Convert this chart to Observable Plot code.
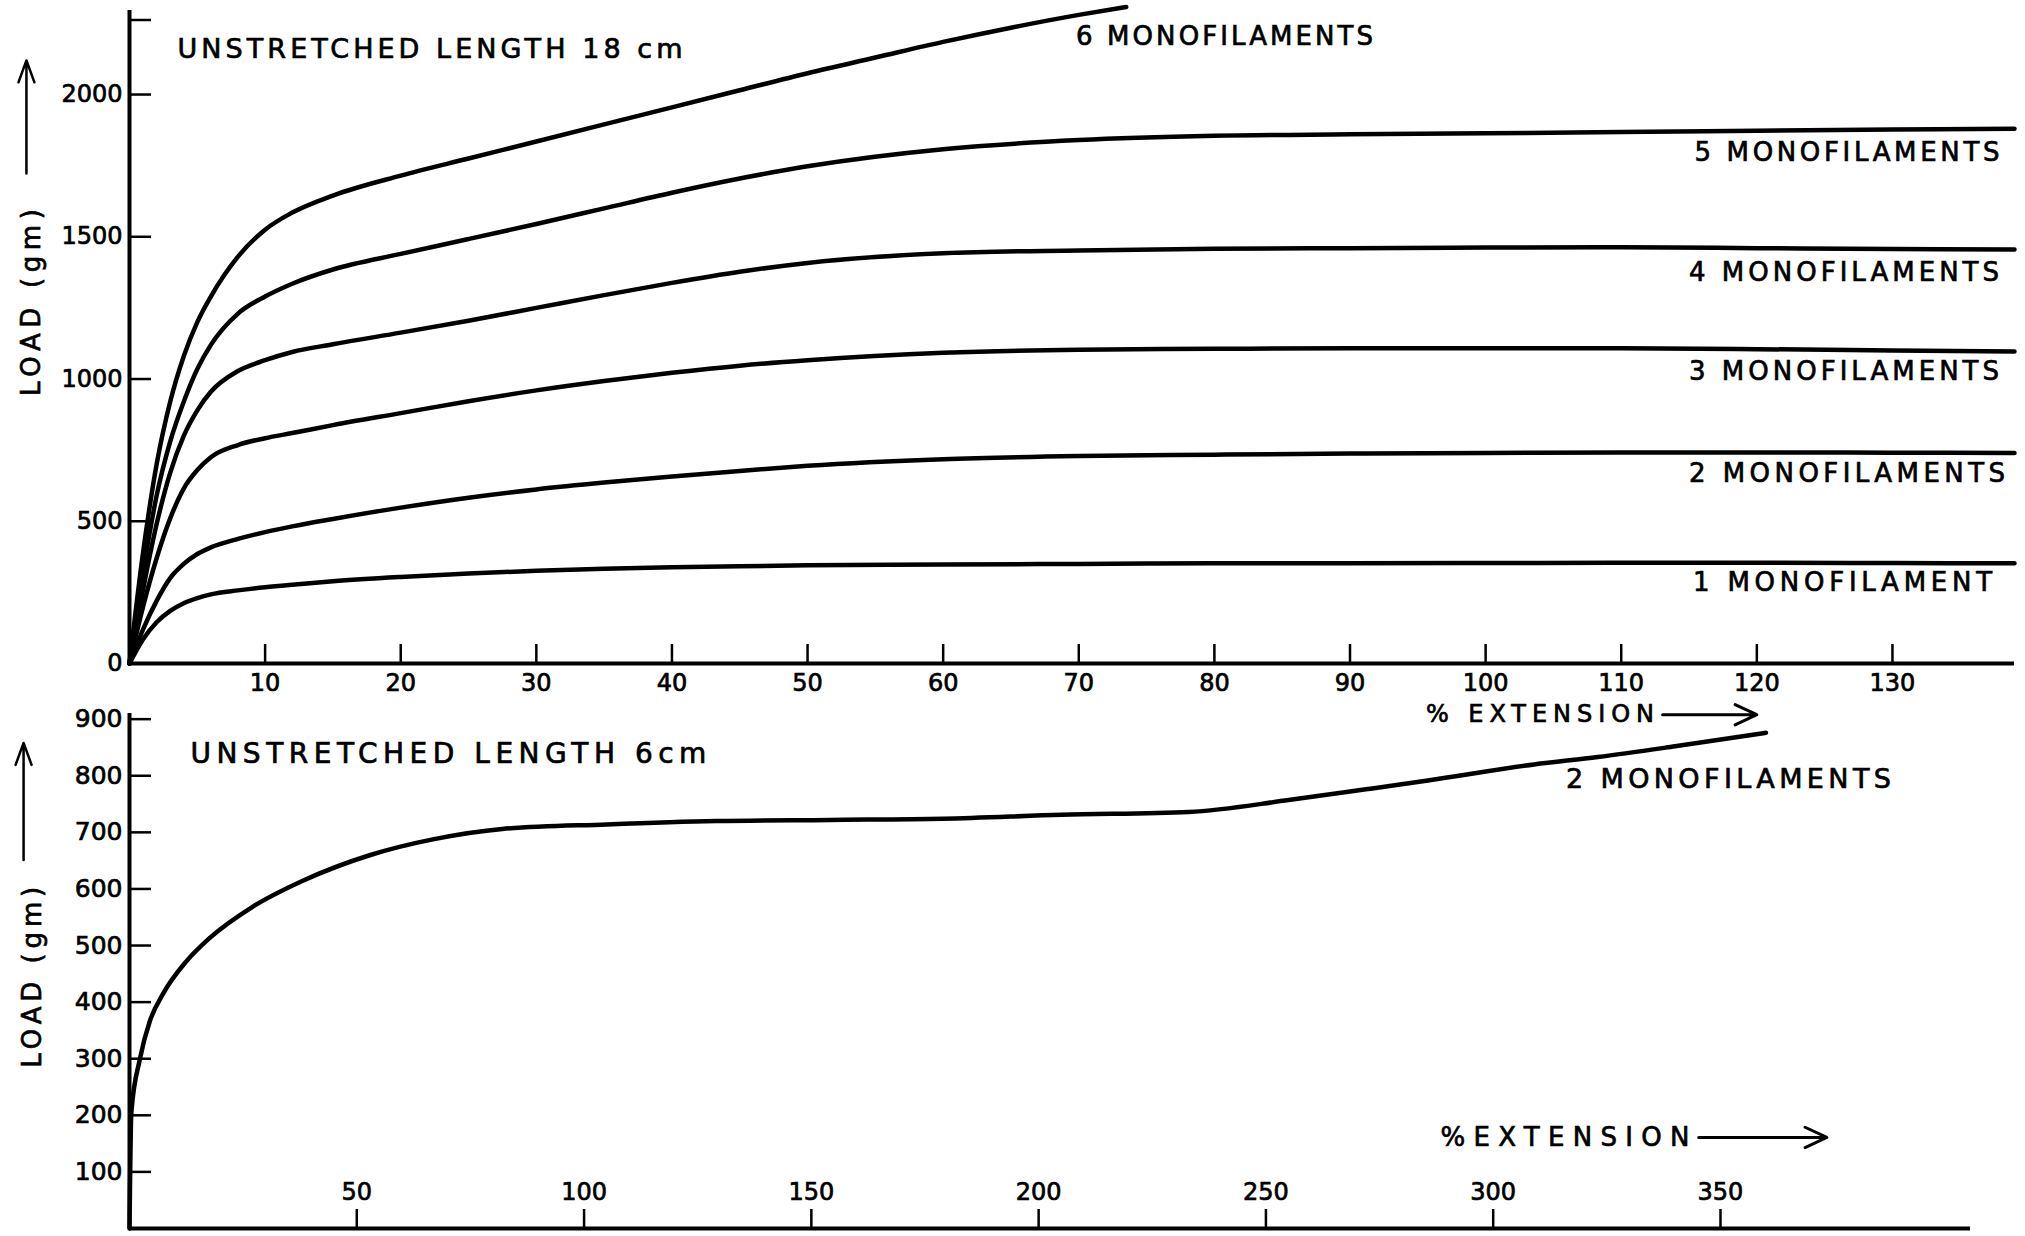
<!DOCTYPE html>
<html><head><meta charset="utf-8">
<script src="https://cdn.jsdelivr.net/npm/d3@7"></script>
<script src="https://cdn.jsdelivr.net/npm/@observablehq/plot@0.6"></script>
<style>
body{margin:0;background:#fff;}
#wrap{position:relative;width:2025px;height:1236px;overflow:hidden;background:#fff;}
#wrap svg{position:absolute;left:0;}
</style></head><body><div id="wrap"></div>
<script>
// ---------- DATA: upper panel (unstretched length 18 cm) ----------
const ext18 = [0, 1, 2, 3, 4, 5, 6, 8, 10, 12, 15, 20, 25, 30, 35, 40, 45, 50, 60, 70, 80, 90, 100, 110, 120, 130, 139];
const load1 = [0, 85, 145, 185, 212, 230, 243, 257, 268, 277, 289, 304, 316, 326, 333, 338, 342, 345, 348, 350, 352, 352, 353, 354, 354, 353, 352];
const load2 = [0, 120, 220, 300, 350, 385, 408, 438, 462, 482, 508, 548, 583, 612, 636, 657, 677, 695, 718, 729, 734, 738, 740, 742, 742, 741, 740];
const load3 = [0, 200, 370, 510, 615, 680, 725, 768, 792, 810, 838, 880, 922, 960, 993, 1022, 1047, 1066, 1092, 1103, 1106, 1108, 1108, 1108, 1105, 1100, 1097];
const load4 = [0, 260, 490, 670, 800, 890, 955, 1028, 1066, 1095, 1122, 1163, 1205, 1250, 1295, 1338, 1377, 1408, 1442, 1452, 1458, 1460, 1462, 1463, 1460, 1457, 1455];
const load5 = [0, 320, 590, 780, 920, 1035, 1120, 1230, 1290, 1335, 1385, 1440, 1492, 1545, 1600, 1655, 1705, 1748, 1808, 1840, 1855, 1860, 1864, 1868, 1873, 1877, 1880];
const ext18six = [0, 1, 2, 3, 4, 5, 6, 8, 10, 12, 15, 20, 25, 30, 35, 40, 45, 50, 55, 60, 65, 70, 73.5];
const load6 = [0, 390, 700, 920, 1080, 1200, 1290, 1430, 1525, 1585, 1645, 1715, 1775, 1835, 1895, 1955, 2015, 2075, 2130, 2185, 2235, 2280, 2308];
const names18 = ["1 MONOFILAMENT", "2 MONOFILAMENTS", "3 MONOFILAMENTS", "4 MONOFILAMENTS", "5 MONOFILAMENTS", "6 MONOFILAMENTS"];
const xTicks18 = [10, 20, 30, 40, 50, 60, 70, 80, 90, 100, 110, 120, 130];
const yTicks18 = [0, 500, 1000, 1500, 2000];
const title18 = "UNSTRETCHED LENGTH 18 cm";

// ---------- DATA: lower panel (unstretched length 6 cm) ----------
const ext6cm = [0, 0.4, 2.3, 4.5, 7.4, 12.5, 17.6, 27, 38, 53, 67, 82, 105, 129, 154, 179, 205, 233, 255, 272, 286, 309, 323, 340, 360];
const load6cm = [0, 205, 300, 367, 415, 472, 513, 568, 614, 660, 688, 706, 714, 720, 722, 724, 731, 736, 757, 776, 792, 820, 833, 852, 876];
const name6cm = "2 MONOFILAMENTS";
const xTicks6 = [50, 100, 150, 200, 250, 300, 350];
const yTicks6 = [100, 200, 300, 400, 500, 600, 700, 800, 900];
const title6 = "UNSTRETCHED LENGTH 6cm";
const yTitle = "LOAD (gm)";
const extTitle18 = "% EXTENSION";
const extTitle6 = "%EXTENSION";

// ---------- build tables ----------
const seriesExt = [ext18, ext18, ext18, ext18, ext18, ext18six];
const seriesLoad = [load1, load2, load3, load4, load5, load6];
const rows18 = names18.flatMap((name, k) => seriesExt[k].map((x, i) => ({name, x, y: seriesLoad[k][i]})));
const rows6 = ext6cm.map((x, i) => ({x, y: load6cm[i]}));

// ---------- layout (annotation placement in data units, text widths in px) ----------
const labelPos18 = [[115.3, 285], [115.0, 668], [115.0, 1026], [115.0, 1374], [115.4, 1796], [69.8, 2204]];
const labels18 = names18.map((t, i) => ({t, x: labelPos18[i][0], y: labelPos18[i][1]}));
const widthsTop = {
  "UNSTRETCHED LENGTH 18 cm": 505, "6 MONOFILAMENTS": 297, "5 MONOFILAMENTS": 305, "4 MONOFILAMENTS": 310,
  "3 MONOFILAMENTS": 310, "2 MONOFILAMENTS": 316, "1 MONOFILAMENT": 299, "% EXTENSION": 228, "LOAD (gm)": 187
};
const widthsBottom = {"UNSTRETCHED LENGTH 6cm": 516, "2 MONOFILAMENTS": 325, "%EXTENSION": 249, "LOAD (gm)": 181};

const FONT = "'DejaVu Sans', sans-serif";
const INK = "#000";
const baseStyle = {fontFamily: FONT, fontSize: "24px", color: INK, background: "transparent", overflow: "visible"};
const fmt = d => String(d);

const plotTop = Plot.plot({
  width: 2025, height: 735,
  marginLeft: 129, marginRight: 11, marginTop: 3, marginBottom: 72,
  x: {domain: [0, 139], axis: null, label: null},
  y: {domain: [0, 2320], axis: null, label: null},
  style: baseStyle,
  marks: [
    Plot.line(rows18, {x: "x", y: "y", z: "name", curve: "monotone-x", stroke: INK, strokeWidth: 4.5, strokeLinecap: "round"}),
    Plot.ruleX([0], {y1: 0, y2: 2295, stroke: INK, strokeWidth: 4}),
    Plot.ruleY([0], {x1: 0, x2: 139, stroke: INK, strokeWidth: 4}),
    Plot.axisY([500, 1000, 1500, 2000, 2262], {anchor: "left", tickSize: -22, tickFormat: () => "", stroke: INK, strokeWidth: 2.5}),
    Plot.axisY(yTicks18, {anchor: "left", tickSize: 0, tickPadding: 7, tickFormat: fmt, fontSize: 24, fill: INK, label: null}),
    Plot.axisX(xTicks18, {anchor: "bottom", tickSize: -19, tickFormat: () => "", stroke: INK, strokeWidth: 2.5}),
    Plot.axisX(xTicks18, {anchor: "bottom", tickSize: 0, tickPadding: 10, tickFormat: fmt, fontSize: 24, fill: INK, label: null}),
    Plot.text(labels18, {x: "x", y: "y", text: "t", textAnchor: "start", lineAnchor: "middle", fontSize: 26, fill: INK}),
    Plot.text([title18], {x: 3.54, y: 2158, text: d => d, textAnchor: "start", lineAnchor: "middle", fontSize: 27, fill: INK}),
    Plot.text([extTitle18], {x: 95.6, y: -180, text: d => d, textAnchor: "start", lineAnchor: "middle", fontSize: 24, fill: INK}),
    Plot.arrow([0], {x1: 113.05, x2: 120.0, y1: -180, y2: -180, stroke: INK, strokeWidth: 3, headLength: 12, headAngle: 50}),
    Plot.text([yTitle], {x: -7.2, y: 1269, text: d => d, rotate: -90, textAnchor: "middle", lineAnchor: "middle", fontSize: 26, fill: INK}),
    Plot.arrow([0], {x1: -7.6, x2: -7.6, y1: 1722, y2: 2120, stroke: INK, strokeWidth: 2.5, headLength: 14, headAngle: 40})
  ]
});

const plotBottom = Plot.plot({
  width: 2025, height: 536,
  marginLeft: 129, marginRight: 55, marginTop: 13, marginBottom: 8,
  x: {domain: [0, 405], axis: null, label: null},
  y: {domain: [0, 910], axis: null, label: null},
  style: baseStyle,
  marks: [
    Plot.line(rows6, {x: "x", y: "y", curve: "monotone-x", stroke: INK, strokeWidth: 4.5, strokeLinecap: "round"}),
    Plot.ruleX([0], {y1: 0, y2: 910, stroke: INK, strokeWidth: 4}),
    Plot.ruleY([0], {x1: 0, x2: 405, stroke: INK, strokeWidth: 4}),
    Plot.axisY(yTicks6, {anchor: "left", tickSize: -22, tickFormat: () => "", stroke: INK, strokeWidth: 2.5}),
    Plot.axisY(yTicks6, {anchor: "left", tickSize: 0, tickPadding: 7, tickFormat: fmt, fontSize: 25, fill: INK, label: null}),
    Plot.axisX(xTicks6, {anchor: "bottom", tickSize: -19, tickFormat: () => "", stroke: INK, strokeWidth: 2.5}),
    Plot.text(xTicks6, {x: d => d, y: 0, dy: -36, text: fmt, textAnchor: "middle", lineAnchor: "middle", fontSize: 24, fill: INK}),
    Plot.text([name6cm], {x: 316, y: 794, text: d => d, textAnchor: "start", lineAnchor: "middle", fontSize: 27, fill: INK}),
    Plot.text([title6], {x: 13.4, y: 838, text: d => d, textAnchor: "start", lineAnchor: "middle", fontSize: 28, fill: INK}),
    Plot.text([extTitle6], {x: 288.4, y: 161, text: d => d, textAnchor: "start", lineAnchor: "middle", fontSize: 26, fill: INK}),
    Plot.arrow([0], {x1: 345.2, x2: 373.4, y1: 161, y2: 161, stroke: INK, strokeWidth: 3, headLength: 12, headAngle: 50}),
    Plot.text([yTitle], {x: -21.2, y: 444, text: d => d, rotate: -90, textAnchor: "middle", lineAnchor: "middle", fontSize: 26, fill: INK}),
    Plot.arrow([0], {x1: -23.3, x2: -23.3, y1: 651, y2: 858, stroke: INK, strokeWidth: 2.5, headLength: 14, headAngle: 40})
  ]
});

// stretch the stencil-style lettering to the widths seen in the original, and give it a heavier pen
function spread(svg, widths) {
  svg.querySelectorAll("text").forEach(t => {
    t.style.stroke = INK;
    t.style.strokeWidth = "0.7px";
    const w = widths[t.textContent];
    if (w) { t.setAttribute("textLength", w); t.setAttribute("lengthAdjust", "spacing"); }
  });
}
spread(plotTop, widthsTop);
spread(plotBottom, widthsBottom);

const wrap = document.getElementById("wrap");
plotTop.style.top = "0px";
plotBottom.style.top = "700px";
wrap.appendChild(plotTop);
wrap.appendChild(plotBottom);
</script>
</body></html>
